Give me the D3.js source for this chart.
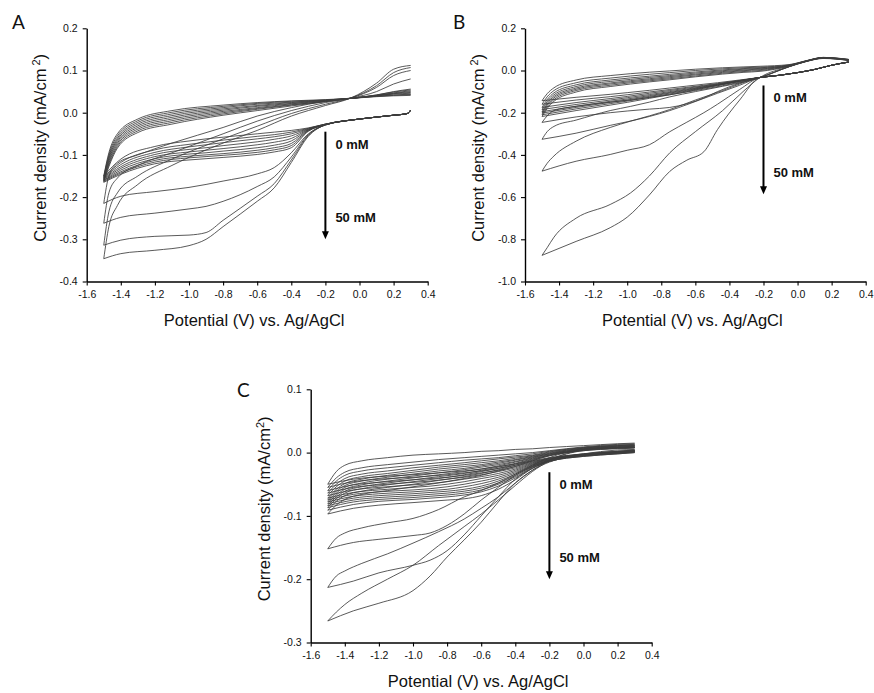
<!DOCTYPE html>
<html lang="en">
<head>
<meta charset="UTF-8">
<title>Cyclic voltammograms A-C</title>
<script src="https://d3js.org/d3.v7.min.js"></script>
<style>
  body { margin: 0; background: #fff; }
  svg { display: block; font-family: "Liberation Sans", Arial, sans-serif; }
</style>
</head>
<body>
<script>
    var width = 874, height = 693;

    // tick labels
    var xTicks = [-1.6, -1.4, -1.2, -1.0, -0.8, -0.6, -0.4, -0.2, 0.0, 0.2, 0.4];
    var aYTicks = [-0.4, -0.3, -0.2, -0.1, 0.0, 0.1, 0.2];
    var bYTicks = [-1.0, -0.8, -0.6, -0.4, -0.2, 0.0, 0.2];
    var cYTicks = [-0.3, -0.2, -0.1, 0.0, 0.1];

    // Panel A - potentials (V) of the cathodic sweep and of the return sweep
    var aDownX = [0.3, 0.28, 0.2, 0.0, -0.2, -0.3, -0.4, -0.5, -0.6, -0.8, -0.9, -1.0, -1.2, -1.4, -1.5];
    var aUpX = [-1.5, -1.47, -1.42, -1.3, -1.1, -0.8, -0.6, -0.4, -0.2, -0.05, 0.1, 0.2, 0.3];
    // current density (mA/cm2), one row per concentration, 0 mM first
    var aDown = [
        [0.006, -0.002, -0.006, -0.015, -0.027, -0.036, -0.042, -0.046, -0.05, -0.058, -0.062, -0.067, -0.08, -0.11, -0.15],
        [0.006, -0.002, -0.006, -0.015, -0.027, -0.037, -0.046, -0.052, -0.056, -0.065, -0.07, -0.075, -0.088, -0.118, -0.152],
        [0.006, -0.002, -0.006, -0.015, -0.027, -0.038, -0.05, -0.057, -0.062, -0.071, -0.076, -0.081, -0.094, -0.123, -0.154],
        [0.006, -0.002, -0.006, -0.015, -0.028, -0.039, -0.055, -0.063, -0.069, -0.078, -0.083, -0.087, -0.099, -0.128, -0.156],
        [0.006, -0.002, -0.006, -0.015, -0.028, -0.04, -0.061, -0.07, -0.076, -0.085, -0.089, -0.093, -0.104, -0.132, -0.158],
        [0.006, -0.002, -0.006, -0.015, -0.028, -0.041, -0.067, -0.077, -0.083, -0.091, -0.095, -0.098, -0.109, -0.136, -0.16],
        [0.006, -0.002, -0.006, -0.015, -0.028, -0.042, -0.073, -0.083, -0.089, -0.097, -0.1, -0.103, -0.113, -0.14, -0.161],
        [0.006, -0.002, -0.006, -0.015, -0.028, -0.043, -0.078, -0.088, -0.094, -0.101, -0.104, -0.107, -0.117, -0.143, -0.163],
        [0.006, -0.002, -0.006, -0.015, -0.028, -0.044, -0.083, -0.093, -0.099, -0.106, -0.109, -0.112, -0.121, -0.146, -0.165],
        [0.006, -0.002, -0.006, -0.015, -0.029, -0.05, -0.095, -0.13, -0.145, -0.162, -0.17, -0.177, -0.187, -0.198, -0.215],
        [0.006, -0.002, -0.006, -0.015, -0.029, -0.052, -0.105, -0.152, -0.175, -0.21, -0.222, -0.228, -0.238, -0.248, -0.262],
        [0.006, -0.002, -0.006, -0.015, -0.029, -0.054, -0.112, -0.168, -0.198, -0.255, -0.284, -0.29, -0.293, -0.302, -0.314],
        [0.006, -0.002, -0.006, -0.015, -0.029, -0.056, -0.118, -0.178, -0.21, -0.27, -0.3, -0.315, -0.326, -0.334, -0.346]
    ];
    var aUp = [
        [-0.15, -0.095, -0.05, -0.015, 0.005, 0.018, 0.024, 0.028, 0.031, 0.034, 0.038, 0.04, 0.041],
        [-0.152, -0.1, -0.055, -0.019, 0.001, 0.015, 0.022, 0.027, 0.03, 0.034, 0.039, 0.041, 0.043],
        [-0.154, -0.104, -0.06, -0.023, -0.003, 0.012, 0.02, 0.025, 0.03, 0.034, 0.039, 0.042, 0.044],
        [-0.156, -0.108, -0.064, -0.027, -0.007, 0.009, 0.017, 0.024, 0.029, 0.034, 0.04, 0.044, 0.046],
        [-0.158, -0.112, -0.068, -0.031, -0.011, 0.006, 0.015, 0.022, 0.029, 0.034, 0.04, 0.045, 0.048],
        [-0.16, -0.116, -0.072, -0.035, -0.015, 0.003, 0.012, 0.021, 0.028, 0.034, 0.041, 0.046, 0.05],
        [-0.161, -0.12, -0.076, -0.039, -0.019, 0.0, 0.01, 0.019, 0.027, 0.034, 0.041, 0.047, 0.052],
        [-0.163, -0.124, -0.08, -0.043, -0.023, -0.003, 0.008, 0.018, 0.027, 0.034, 0.042, 0.049, 0.054],
        [-0.165, -0.128, -0.084, -0.047, -0.027, -0.006, 0.005, 0.016, 0.026, 0.034, 0.042, 0.05, 0.056],
        [-0.215, -0.15, -0.12, -0.1, -0.072, -0.035, -0.008, 0.012, 0.027, 0.035, 0.05, 0.068, 0.08],
        [-0.262, -0.19, -0.155, -0.125, -0.095, -0.05, -0.02, 0.005, 0.024, 0.035, 0.06, 0.088, 0.1],
        [-0.314, -0.235, -0.19, -0.15, -0.11, -0.062, -0.032, -0.002, 0.02, 0.035, 0.064, 0.095, 0.107],
        [-0.346, -0.27, -0.22, -0.17, -0.125, -0.072, -0.042, -0.008, 0.017, 0.035, 0.07, 0.103, 0.112]
    ];

    // Panel B
    var bDownX = [0.3, 0.2, 0.1, 0.0, -0.1, -0.22, -0.34, -0.47, -0.55, -0.65, -0.75, -0.87, -1.0, -1.1, -1.3, -1.5];
    var bUpX = [-1.5, -1.47, -1.43, -1.3, -1.1, -0.98, -0.87, -0.75, -0.6, -0.44, -0.32, -0.22, -0.05, 0.05, 0.15, 0.3];
    var bDown = [
        [0.04, 0.025, 0.005, -0.01, -0.022, -0.033, -0.045, -0.058, -0.065, -0.074, -0.083, -0.094, -0.105, -0.113, -0.127, -0.143],
        [0.04, 0.025, 0.005, -0.01, -0.022, -0.033, -0.047, -0.062, -0.07, -0.08, -0.09, -0.102, -0.115, -0.124, -0.14, -0.16],
        [0.04, 0.025, 0.005, -0.01, -0.022, -0.033, -0.048, -0.064, -0.073, -0.084, -0.095, -0.108, -0.123, -0.133, -0.152, -0.175],
        [0.04, 0.025, 0.005, -0.01, -0.022, -0.033, -0.049, -0.066, -0.076, -0.088, -0.1, -0.114, -0.129, -0.14, -0.161, -0.185],
        [0.04, 0.025, 0.005, -0.01, -0.022, -0.033, -0.05, -0.068, -0.078, -0.091, -0.104, -0.119, -0.135, -0.146, -0.169, -0.195],
        [0.04, 0.025, 0.005, -0.01, -0.022, -0.033, -0.05, -0.069, -0.08, -0.094, -0.107, -0.123, -0.14, -0.151, -0.175, -0.202],
        [0.04, 0.025, 0.005, -0.01, -0.022, -0.033, -0.051, -0.07, -0.082, -0.097, -0.111, -0.127, -0.145, -0.157, -0.182, -0.21],
        [0.04, 0.025, 0.005, -0.01, -0.022, -0.033, -0.052, -0.072, -0.084, -0.1, -0.115, -0.132, -0.151, -0.164, -0.19, -0.218],
        [0.04, 0.025, 0.005, -0.01, -0.022, -0.033, -0.06, -0.1, -0.13, -0.158, -0.175, -0.183, -0.192, -0.2, -0.22, -0.246],
        [0.04, 0.025, 0.005, -0.01, -0.022, -0.033, -0.07, -0.108, -0.132, -0.162, -0.19, -0.218, -0.243, -0.26, -0.297, -0.326],
        [0.04, 0.025, 0.005, -0.01, -0.022, -0.033, -0.09, -0.16, -0.2, -0.245, -0.29, -0.352, -0.378, -0.398, -0.43, -0.477],
        [0.04, 0.025, 0.005, -0.01, -0.022, -0.033, -0.14, -0.28, -0.385, -0.425, -0.478, -0.59, -0.695, -0.745, -0.81, -0.876]
    ];
    var bUp = [
        [-0.143, -0.11, -0.082, -0.045, -0.024, -0.015, -0.008, -0.002, 0.006, 0.013, 0.017, 0.02, 0.028, 0.046, 0.062, 0.053],
        [-0.16, -0.125, -0.095, -0.058, -0.036, -0.026, -0.018, -0.01, 0.0, 0.008, 0.013, 0.016, 0.026, 0.046, 0.062, 0.052],
        [-0.175, -0.138, -0.106, -0.068, -0.045, -0.035, -0.027, -0.018, -0.007, 0.003, 0.009, 0.013, 0.025, 0.045, 0.061, 0.052],
        [-0.185, -0.148, -0.115, -0.076, -0.052, -0.042, -0.033, -0.024, -0.012, -0.001, 0.006, 0.01, 0.024, 0.045, 0.061, 0.051],
        [-0.195, -0.157, -0.123, -0.083, -0.059, -0.048, -0.039, -0.029, -0.017, -0.005, 0.002, 0.007, 0.023, 0.045, 0.06, 0.051],
        [-0.202, -0.164, -0.13, -0.089, -0.064, -0.053, -0.044, -0.034, -0.021, -0.009, -0.001, 0.004, 0.022, 0.044, 0.06, 0.05],
        [-0.21, -0.172, -0.138, -0.095, -0.07, -0.058, -0.049, -0.039, -0.026, -0.013, -0.005, 0.0, 0.021, 0.044, 0.06, 0.05],
        [-0.218, -0.18, -0.146, -0.102, -0.076, -0.064, -0.054, -0.044, -0.03, -0.017, -0.009, -0.004, 0.02, 0.044, 0.059, 0.05],
        [-0.246, -0.215, -0.19, -0.17, -0.15, -0.14, -0.128, -0.115, -0.095, -0.072, -0.052, -0.033, 0.018, 0.043, 0.059, 0.049],
        [-0.326, -0.29, -0.265, -0.235, -0.19, -0.17, -0.15, -0.125, -0.1, -0.075, -0.055, -0.033, 0.018, 0.043, 0.058, 0.049],
        [-0.477, -0.44, -0.405, -0.335, -0.27, -0.24, -0.215, -0.185, -0.14, -0.095, -0.058, -0.033, 0.018, 0.043, 0.058, 0.048],
        [-0.876, -0.84, -0.79, -0.7, -0.635, -0.58, -0.5, -0.39, -0.29, -0.19, -0.1, -0.033, 0.018, 0.042, 0.057, 0.048]
    ];

    // Panel C
    var cDownX = [0.3, 0.2, 0.0, -0.2, -0.3, -0.4, -0.5, -0.6, -0.7, -0.8, -0.9, -1.0, -1.2, -1.35, -1.5];
    var cUpX = [-1.5, -1.45, -1.4, -1.3, -1.15, -1.0, -0.85, -0.7, -0.6, -0.5, -0.4, -0.3, -0.2, 0.0, 0.2, 0.3];
    var cDown = [
        [0.004, 0.002, -0.002, -0.008, -0.013, -0.018, -0.022, -0.026, -0.029, -0.031, -0.033, -0.035, -0.038, -0.042, -0.05],
        [0.004, 0.002, -0.002, -0.009, -0.014, -0.02, -0.025, -0.029, -0.032, -0.035, -0.037, -0.039, -0.042, -0.046, -0.055],
        [0.003, 0.001, -0.003, -0.009, -0.015, -0.022, -0.028, -0.032, -0.036, -0.039, -0.041, -0.043, -0.047, -0.051, -0.06],
        [0.003, 0.001, -0.003, -0.01, -0.016, -0.024, -0.03, -0.035, -0.039, -0.042, -0.045, -0.047, -0.051, -0.055, -0.064],
        [0.003, 0.001, -0.003, -0.01, -0.017, -0.026, -0.033, -0.038, -0.042, -0.046, -0.049, -0.051, -0.055, -0.059, -0.068],
        [0.002, 0.0, -0.004, -0.011, -0.018, -0.028, -0.036, -0.041, -0.046, -0.05, -0.053, -0.055, -0.059, -0.063, -0.072],
        [0.002, 0.0, -0.004, -0.011, -0.019, -0.03, -0.039, -0.045, -0.05, -0.054, -0.057, -0.059, -0.062, -0.066, -0.075],
        [0.002, 0.0, -0.004, -0.012, -0.02, -0.032, -0.042, -0.049, -0.054, -0.058, -0.06, -0.062, -0.065, -0.069, -0.078],
        [0.001, -0.001, -0.005, -0.012, -0.021, -0.034, -0.045, -0.053, -0.058, -0.061, -0.063, -0.065, -0.068, -0.072, -0.081],
        [0.001, -0.001, -0.005, -0.013, -0.022, -0.036, -0.048, -0.056, -0.061, -0.064, -0.066, -0.068, -0.071, -0.075, -0.084],
        [0.001, -0.001, -0.005, -0.013, -0.023, -0.038, -0.05, -0.059, -0.064, -0.067, -0.069, -0.071, -0.074, -0.078, -0.087],
        [0.0, -0.002, -0.006, -0.014, -0.024, -0.04, -0.053, -0.062, -0.067, -0.07, -0.072, -0.074, -0.077, -0.082, -0.091],
        [0.0, -0.002, -0.006, -0.014, -0.025, -0.043, -0.058, -0.068, -0.073, -0.075, -0.077, -0.079, -0.083, -0.088, -0.097],
        [0.005, 0.004, -0.002, -0.012, -0.022, -0.036, -0.055, -0.075, -0.097, -0.115, -0.127, -0.131, -0.137, -0.142, -0.152],
        [0.003, 0.002, -0.003, -0.013, -0.025, -0.042, -0.07, -0.1, -0.13, -0.155, -0.17, -0.178, -0.19, -0.203, -0.213],
        [0.002, 0.0, -0.004, -0.015, -0.028, -0.048, -0.078, -0.11, -0.138, -0.165, -0.195, -0.218, -0.238, -0.25, -0.266]
    ];
    var cUp = [
        [-0.05, -0.03, -0.02, -0.013, -0.008, -0.004, -0.002, 0.0, 0.002, 0.003, 0.005, 0.006, 0.008, 0.011, 0.014, 0.015],
        [-0.055, -0.04, -0.031, -0.024, -0.019, -0.015, -0.011, -0.008, -0.006, -0.004, -0.002, 0.0, 0.003, 0.009, 0.013, 0.014],
        [-0.06, -0.045, -0.036, -0.029, -0.024, -0.02, -0.016, -0.012, -0.01, -0.008, -0.005, -0.002, 0.002, 0.008, 0.012, 0.013],
        [-0.064, -0.05, -0.041, -0.034, -0.029, -0.024, -0.02, -0.016, -0.013, -0.01, -0.007, -0.004, 0.001, 0.008, 0.011, 0.012],
        [-0.068, -0.054, -0.045, -0.038, -0.033, -0.028, -0.023, -0.019, -0.016, -0.013, -0.009, -0.005, 0.0, 0.007, 0.011, 0.012],
        [-0.072, -0.058, -0.049, -0.042, -0.036, -0.031, -0.026, -0.022, -0.019, -0.015, -0.011, -0.006, -0.001, 0.007, 0.01, 0.011],
        [-0.075, -0.061, -0.052, -0.045, -0.039, -0.034, -0.029, -0.025, -0.021, -0.017, -0.012, -0.007, -0.002, 0.006, 0.01, 0.011],
        [-0.078, -0.064, -0.055, -0.048, -0.042, -0.037, -0.032, -0.027, -0.023, -0.019, -0.014, -0.008, -0.002, 0.006, 0.009, 0.01],
        [-0.081, -0.067, -0.058, -0.051, -0.045, -0.04, -0.035, -0.03, -0.026, -0.021, -0.015, -0.009, -0.003, 0.005, 0.009, 0.01],
        [-0.084, -0.07, -0.061, -0.054, -0.048, -0.043, -0.038, -0.033, -0.028, -0.023, -0.017, -0.01, -0.004, 0.005, 0.008, 0.009],
        [-0.087, -0.073, -0.064, -0.057, -0.051, -0.046, -0.041, -0.035, -0.03, -0.025, -0.018, -0.011, -0.004, 0.004, 0.008, 0.009],
        [-0.091, -0.077, -0.068, -0.061, -0.055, -0.05, -0.044, -0.038, -0.033, -0.027, -0.02, -0.012, -0.005, 0.004, 0.007, 0.008],
        [-0.097, -0.083, -0.074, -0.066, -0.06, -0.054, -0.048, -0.041, -0.036, -0.029, -0.022, -0.013, -0.005, 0.003, 0.007, 0.008],
        [-0.152, -0.135, -0.127, -0.119, -0.111, -0.104, -0.09, -0.07, -0.06, -0.048, -0.034, -0.02, -0.008, 0.005, 0.008, 0.008],
        [-0.213, -0.195, -0.187, -0.175, -0.16, -0.143, -0.125, -0.105, -0.088, -0.07, -0.048, -0.028, -0.012, 0.004, 0.007, 0.008],
        [-0.266, -0.252, -0.24, -0.222, -0.2, -0.178, -0.147, -0.117, -0.097, -0.075, -0.052, -0.03, -0.013, 0.003, 0.006, 0.007]
    ];

    // arrow annotations: potential, start and end current, labels
    var arrowX = -0.2;
    var aArrow = [-0.045, -0.3], bArrow = [-0.071, -0.587], cArrow = [-0.031, -0.2];
    var arrowLabels = ['0 mM', '50 mM'];

    var panels = [
        { letter: 'A', x0: 86.7, x1: 427.7, top: 28.3, bot: 281.5, yDomain: [-0.4, 0.2], yTicks: aYTicks,
          downX: aDownX, upX: aUpX, down: aDown, up: aUp, arrow: aArrow, lx: 12, ly: 29, supGap: 3 },
        { letter: 'B', x0: 525, x1: 865.7, top: 28.3, bot: 281.5, yDomain: [-1.0, 0.2], yTicks: bYTicks,
          downX: bDownX, upX: bUpX, down: bDown, up: bUp, arrow: bArrow, lx: 453, ly: 29, supGap: 3 },
        { letter: 'C', x0: 310.7, x1: 651.7, top: 389.3, bot: 642.5, yDomain: [-0.3, 0.1], yTicks: cYTicks,
          downX: cDownX, upX: cUpX, down: cDown, up: cUp, arrow: cArrow, lx: 237, ly: 397, supGap: 0 }
    ];

    var svg = d3.select('body').append('svg')
        .attr('width', width).attr('height', height);

    function branch(xs, ys) {
        return xs.map(function (v, i) { return [v, ys[i]]; })
            .sort(function (a, b) { return a[0] - b[0]; });
    }

    panels.forEach(function (p) {
        var x = d3.scaleLinear().domain([-1.6, 0.4]).range([p.x0, p.x1]);
        var y = d3.scaleLinear().domain(p.yDomain).range([p.bot, p.top]);
        var g = svg.append('g');

        var line = d3.line()
            .x(function (d) { return x(d[0]); })
            .y(function (d) { return y(d[1]); })
            .curve(d3.curveMonotoneX);

        // voltammograms: cathodic sweep + return sweep for every concentration
        p.down.forEach(function (row, i) {
            [branch(p.downX, row), branch(p.upX, p.up[i])].forEach(function (pts) {
                g.append('path')
                    .attr('d', line(pts))
                    .attr('fill', 'none')
                    .attr('stroke', '#3c3c3c')
                    .attr('stroke-width', 0.85);
            });
        });

        // axes
        var fmt = function (d) { return d.toFixed(1); };
        var xAxis = g.append('g')
            .attr('transform', 'translate(0,' + p.bot + ')')
            .call(d3.axisBottom(x).tickValues(xTicks).tickFormat(fmt)
                .tickSize(4).tickSizeOuter(0).tickPadding(5));
        var yAxis = g.append('g')
            .attr('transform', 'translate(' + p.x0 + ',0)')
            .call(d3.axisLeft(y).tickValues(p.yTicks).tickFormat(fmt)
                .tickSize(4).tickSizeOuter(0).tickPadding(5));
        [xAxis, yAxis].forEach(function (ax) {
            ax.select('.domain').attr('stroke', '#000').attr('stroke-width', 1.4);
            ax.selectAll('.tick line').attr('stroke', '#000').attr('stroke-width', 1.1);
            ax.selectAll('.tick text').attr('fill', '#111').style('font-size', '10.5px')
                .style('font-family', '"Liberation Sans", Arial, sans-serif');
        });

        // axis titles
        g.append('text')
            .attr('x', (p.x0 + p.x1) / 2 - 3)
            .attr('y', p.bot + 44)
            .attr('text-anchor', 'middle')
            .style('font-size', '16.5px')
            .attr('fill', '#111')
            .text('Potential (V) vs. Ag/AgCl');

        var yt = g.append('text')
            .attr('transform', 'translate(' + (p.x0 - 41) + ',' + ((p.top + p.bot) / 2 - 7) + ') rotate(-90)')
            .attr('text-anchor', 'middle')
            .style('font-size', '16.5px')
            .attr('fill', '#111');
        yt.append('tspan').text('Current density (mA/cm');
        yt.append('tspan').attr('dx', p.supGap).attr('dy', -6).style('font-size', '11px').text('2');
        yt.append('tspan').attr('dy', 6).text(')');

        // panel letter
        g.append('text')
            .attr('x', p.lx).attr('y', p.ly)
            .style('font-family', 'Lato, "Open Sans", sans-serif')
            .style('font-size', '19px')
            .attr('fill', '#111')
            .text(p.letter);

        // concentration arrow
        var ax0 = x(arrowX), ay0 = y(p.arrow[0]), ay1 = y(p.arrow[1]);
        g.append('line')
            .attr('x1', ax0).attr('x2', ax0)
            .attr('y1', ay0).attr('y2', ay1 - 7)
            .attr('stroke', '#000').attr('stroke-width', 2);
        g.append('path')
            .attr('d', 'M' + (ax0 - 3.5) + ',' + (ay1 - 8) + 'L' + (ax0 + 3.5) + ',' + (ay1 - 8) + 'L' + ax0 + ',' + ay1 + 'Z')
            .attr('fill', '#000');
        g.append('text')
            .attr('x', ax0 + 10).attr('y', ay0 + 17)
            .style('font-size', '13px').style('font-weight', 'bold')
            .attr('fill', '#111')
            .text(arrowLabels[0]);
        g.append('text')
            .attr('x', ax0 + 10).attr('y', ay1 - 17)
            .style('font-size', '13px').style('font-weight', 'bold')
            .attr('fill', '#111')
            .text(arrowLabels[1]);
    });
</script>
</body>
</html>
